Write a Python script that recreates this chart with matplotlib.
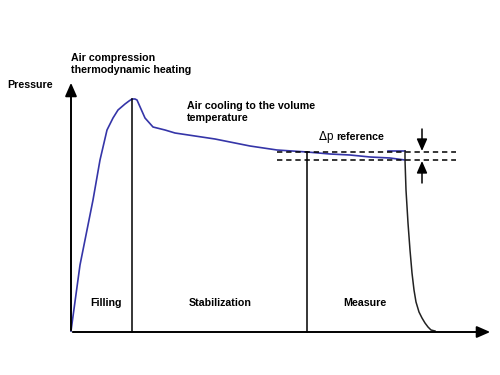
import matplotlib.pyplot as plt

plt.rcParams['font.family'] = ['Liberation Sans', 'DejaVu Sans']

# pressure curve (schematic, picture coordinates: x right, y down)
fill_x = [71, 80, 93, 100, 107, 113, 118, 125, 129, 132, 135, 137, 141, 145, 153, 165, 175, 195, 215, 230, 250, 277, 307, 330, 350, 370, 390, 405]
fill_y = [331, 265, 200, 160, 130, 118, 110, 104, 101, 99, 99, 100, 109, 118, 127, 130, 133, 136, 139, 142, 146, 150, 152, 154, 155, 157, 158, 160]
top_x = [388, 405]
top_y = [151, 151]
drop_x = [405, 405, 406, 408, 410, 412, 414, 416, 419, 422, 425, 428, 431, 435]
drop_y = [151, 160, 190, 223, 250, 273, 290, 302, 312, 318, 323, 327, 330, 331]

phase_x = [132, 307]
phase_top = [99, 152]
phase_names = ['Filling', 'Stabilization', 'Measure']
phase_mid = [106, 220, 365]

dp_levels = [152, 160]

fig = plt.figure(figsize=(5, 3.75), dpi=100)
ax = fig.add_axes([0, 0, 1, 1])
ax.set_xlim(0, 500)
ax.set_ylim(375, 0)
ax.axis('off')

blue = '#3535a8'
ax.plot(fill_x, fill_y, color=blue, lw=1.2)
ax.plot(top_x, top_y, color=blue, lw=1.2)
ax.plot(drop_x, drop_y, color='#222222', lw=1.1)

head = '-|>,head_length=0.8,head_width=0.35'

# axes with arrows
ax.annotate('', xy=(71, 80), xytext=(71, 333),
            arrowprops=dict(arrowstyle=head, color='black', lw=1.4, mutation_scale=10))
ax.annotate('', xy=(493, 332), xytext=(70, 332),
            arrowprops=dict(arrowstyle=head, color='black', lw=1.4, mutation_scale=10))

# phase separators
for x, top in zip(phase_x, phase_top):
    ax.plot([x, x], [332, top], color='black', lw=1.1)

for name, x in zip(phase_names, phase_mid):
    ax.text(x, 303, name, ha='center', va='center', fontsize=7.7, fontweight='bold')

# delta p reference
for y in dp_levels:
    ax.plot([277, 456], [y, y], color='black', lw=1.1, ls=(0, (3.5, 2.5)))
ax.annotate('', xy=(422, 151), xytext=(422, 129),
            arrowprops=dict(arrowstyle=head, color='black', lw=1.1, mutation_scale=9,
                            shrinkA=0, shrinkB=0))
ax.annotate('', xy=(422, 161), xytext=(422, 183),
            arrowprops=dict(arrowstyle=head, color='black', lw=1.1, mutation_scale=9,
                            shrinkA=0, shrinkB=0))

ax.text(318, 137, r'$\Delta$p', ha='left', va='center', fontsize=8.5)
ax.text(336, 137, 'reference', ha='left', va='center', fontsize=7.7, fontweight='bold')

ax.text(7, 85, 'Pressure', ha='left', va='center', fontsize=7.7, fontweight='bold')
ax.text(71, 64, 'Air compression\nthermodynamic heating', ha='left', va='center',
        fontsize=7.7, fontweight='bold', linespacing=1.2)
ax.text(187, 112, 'Air cooling to the volume\ntemperature', ha='left', va='center',
        fontsize=7.7, fontweight='bold', linespacing=1.2)

fig.savefig('out.png', dpi=100)
